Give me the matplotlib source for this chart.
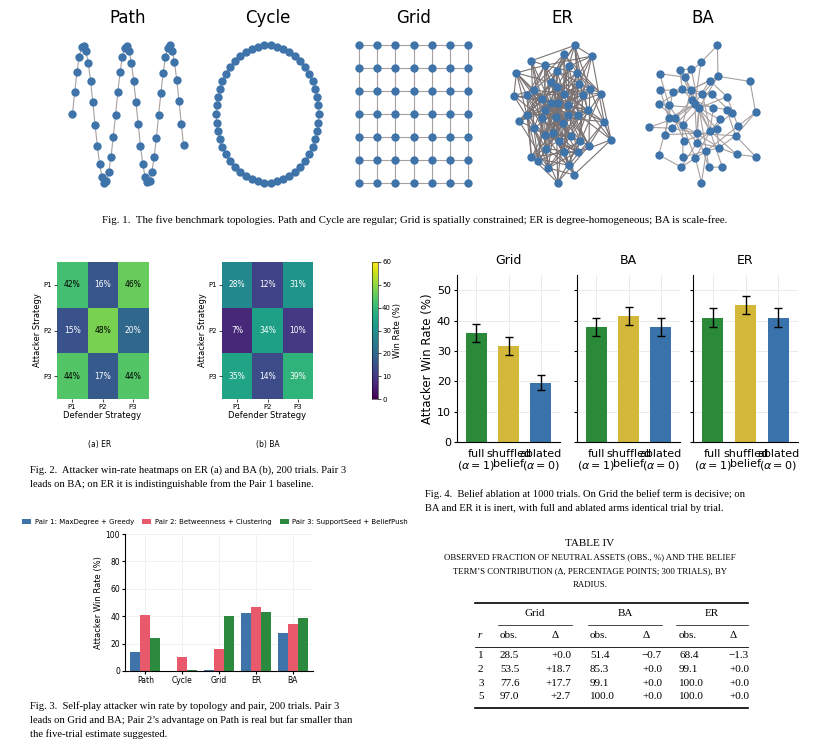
import numpy as np
import matplotlib
matplotlib.use("Agg")
import matplotlib.pyplot as plt

plt.rcParams.update({'font.family': 'DejaVu Sans'})
SERIF = 'Liberation Serif'

# ── Data ──────────────────────────────────────────────────────────────────────
topologies = ["Path", "Cycle", "Grid", "ER", "BA"]
n_nodes = 50
grid_side = 7

strategies = ["P1", "P2", "P3"]
heat_er = [[42, 16, 46], [15, 48, 20], [44, 17, 44]]
heat_ba = [[28, 12, 31], [7, 34, 10], [35, 14, 39]]

pair_labels = ["Pair 1: MaxDegree + Greedy", "Pair 2: Betweenness + Clustering",
               "Pair 3: SupportSeed + BeliefPush"]
pair1 = [14, 0, 0.5, 42, 28]
pair2 = [41, 10, 16, 47, 34]
pair3 = [24, 0.8, 40, 43, 39]

abl_panels = ["Grid", "BA", "ER"]
abl_arms = ["full\n($\\alpha=1$)", "shuffled\nbelief", "ablated\n($\\alpha=0$)"]
abl_vals = {"Grid": [36, 31.5, 19.5], "BA": [38, 41.5, 38], "ER": [41, 45, 41]}
abl_err = {"Grid": [3, 3, 2.5], "BA": [3, 3, 3], "ER": [3, 3, 3]}

radii = ["1", "2", "3", "5"]
grid_obs = ["28.5", "53.5", "77.6", "97.0"]
grid_d = ["+0.0", "+18.7", "+17.7", "+2.7"]
ba_obs = ["51.4", "85.3", "99.1", "100.0"]
ba_d = ["\u22120.7", "+0.0", "+0.0", "+0.0"]
er_obs = ["68.4", "99.1", "100.0", "100.0"]
er_d = ["\u22121.3", "+0.0", "+0.0", "+0.0"]

NODE = '#3f74aa'
EDGE = '#a8a0a0'

W, H = 830, 745
fig = plt.figure(figsize=(8.3, 7.45), dpi=100)


def ax_px(x0, y0, x1, y1):
    return fig.add_axes([x0 / W, 1 - y1 / H, (x1 - x0) / W, (y1 - y0) / H])


def ftext(x, y, s, **kw):
    fig.text(x / W, 1 - y / H, s, **kw)


# ── Graph layouts ─────────────────────────────────────────────────────────────
def spring(edges, n, seed, iters=200):
    rng = np.random.default_rng(seed)
    pos = rng.uniform(-1, 1, (n, 2))
    k = 1.0 / np.sqrt(n)
    t = 0.1
    for _ in range(iters):
        d = pos[:, None, :] - pos[None, :, :]
        dist = np.linalg.norm(d, axis=2) + 1e-6
        disp = (d / dist[..., None] * (k * k / dist)[..., None]).sum(axis=1)
        for i, j in edges:
            v = pos[i] - pos[j]
            l = np.linalg.norm(v) + 1e-6
            f = v / l * l * l / k
            disp[i] -= f
            disp[j] += f
        ln = np.linalg.norm(disp, axis=1) + 1e-6
        pos += disp / ln[:, None] * np.minimum(ln, t)[:, None]
        t *= 0.98
    return pos


def er_graph(n, p, seed):
    rng = np.random.default_rng(seed)
    return [(i, j) for i in range(n) for j in range(i + 1, n) if rng.random() < p]


def ba_graph(n, m, seed):
    rng = np.random.default_rng(seed)
    edges = [(0, 1), (1, 2), (0, 2)]
    deg = [2, 2, 2]
    for v in range(3, n):
        prob = np.array(deg) / sum(deg)
        targets = rng.choice(len(deg), size=m, replace=False, p=prob)
        deg.append(0)
        for t in targets:
            edges.append((int(t), v))
            deg[t] += 1
            deg[v] += 1
    return edges


def draw_graph(ax, pos, edges, ms=6, ecol=EDGE):
    for i, j in edges:
        ax.plot([pos[i, 0], pos[j, 0]], [pos[i, 1], pos[j, 1]], color=ecol, lw=0.8, zorder=1)
    ax.scatter(pos[:, 0], pos[:, 1], s=ms ** 2, color=NODE, zorder=2, linewidths=0)
    ax.axis('off')


boxes = [(68, 40, 188, 188), (212, 40, 323, 188), (355, 40, 472, 188),
         (510, 40, 615, 188), (645, 40, 760, 188)]
idx = np.arange(n_nodes)
layouts = {}
s = idx / (n_nodes - 1)
layouts["Path"] = (np.column_stack([s, np.sin(s * 5.15 * np.pi)]),
                   [(i, i + 1) for i in range(n_nodes - 1)])
ang = idx / n_nodes * 2 * np.pi
layouts["Cycle"] = (np.column_stack([0.75 * np.cos(ang), np.sin(ang)]),
                    [(i, (i + 1) % n_nodes) for i in range(n_nodes)])
gx, gy = np.meshgrid(np.arange(grid_side), np.arange(grid_side))
gpos = np.column_stack([gx.ravel(), gy.ravel()]).astype(float)
gedges = []
for r in range(grid_side):
    for c in range(grid_side):
        a = r * grid_side + c
        if c + 1 < grid_side:
            gedges.append((a, a + 1))
        if r + 1 < grid_side:
            gedges.append((a, a + grid_side))
layouts["Grid"] = (gpos, gedges)
ee = er_graph(n_nodes, 0.2, 3)
layouts["ER"] = (spring(ee, n_nodes, 1), ee)
be = ba_graph(n_nodes, 2, 5)
layouts["BA"] = (spring(be, n_nodes, 2), be)

for name, box in zip(topologies, boxes):
    ax = ax_px(*box)
    pos, edges = layouts[name]
    draw_graph(ax, pos, edges, ecol='#7a7272' if name == "ER" else EDGE)
    ax.margins(0.04)
    ftext((box[0] + box[2]) / 2, 18, name, ha='center', va='center', fontsize=12)

ftext(415, 220, "Fig. 1.  The five benchmark topologies. Path and Cycle are regular; Grid is spatially "
      "constrained; ER is degree-homogeneous; BA is scale-free.",
      ha='center', va='center', fontsize=7.8, family=SERIF)

# ── Fig. 2 heatmaps ───────────────────────────────────────────────────────────
for data, (x0, x1), lab, lx in [(heat_er, (57, 148), "(a) ER", 100),
                                 (heat_ba, (222, 313), "(b) BA", 268)]:
    ax = ax_px(x0, 262, x1, 399)
    arr = np.array(data)
    im = ax.imshow(arr, cmap='viridis', vmin=0, vmax=60, aspect='auto')
    for r in range(3):
        for c in range(3):
            v = arr[r, c]
            ax.text(c, r, f"{v}%", ha='center', va='center', fontsize=5.5,
                    color='black' if v >= 40 else 'white')
    ax.set_xticks(range(3))
    ax.set_xticklabels(strategies, fontsize=5)
    ax.set_yticks(range(3))
    ax.set_yticklabels(strategies, fontsize=5)
    ax.tick_params(length=2, width=0.5, pad=1.5)
    ax.set_xlabel("Defender Strategy", fontsize=6, labelpad=1)
    ax.set_ylabel("Attacker Strategy", fontsize=6, labelpad=1)
    for sp in ax.spines.values():
        sp.set_visible(False)
    ftext(lx, 445, lab, ha='center', va='center', fontsize=5.5)
cax = ax_px(372, 262, 378, 399)
cb = fig.colorbar(im, cax=cax)
cb.set_ticks([0, 10, 20, 30, 40, 50, 60])
cb.ax.tick_params(labelsize=5, length=2, width=0.5, pad=1)
cb.set_label("Win Rate (%)", fontsize=6, labelpad=1)
cb.outline.set_linewidth(0.4)

ftext(30, 470, "Fig. 2.  Attacker win-rate heatmaps on ER (a) and BA (b), 200 trials. Pair 3",
      va='center', fontsize=7.6, family=SERIF)
ftext(30, 484, "leads on BA; on ER it is indistinguishable from the Pair 1 baseline.",
      va='center', fontsize=7.6, family=SERIF)

# ── Fig. 4 ablation ───────────────────────────────────────────────────────────
abl_colors = ['#2a8a3a', '#d4b83a', '#3a73ab']
for k, (name, (x0, x1)) in enumerate(zip(abl_panels, [(457, 560), (577, 680), (693, 798)])):
    ax = ax_px(x0, 275, x1, 442)
    ax.bar(range(3), abl_vals[name], yerr=abl_err[name], color=abl_colors, width=0.65,
           capsize=3, error_kw=dict(lw=1, capthick=1))
    ax.set_ylim(0, 55)
    ax.set_xlim(-0.6, 2.6)
    ax.set_yticks([0, 10, 20, 30, 40, 50])
    ax.set_xticks(range(3))
    ax.set_xticklabels(abl_arms, fontsize=5.4, linespacing=1.0)
    ax.grid(True, color='#e8e8e8', lw=0.6)
    ax.set_axisbelow(True)
    ax.spines['top'].set_visible(False)
    ax.spines['right'].set_visible(False)
    ax.tick_params(labelsize=8, length=2.5, pad=2)
    ax.tick_params(axis='x', length=0, pad=5)
    ax.set_title(name, fontsize=9, pad=8)
    if k == 0:
        ax.set_ylabel("Attacker Win Rate (%)", fontsize=8.5, labelpad=2)
    else:
        ax.set_yticklabels([])

ftext(425, 494, "Fig. 4.  Belief ablation at 1000 trials. On Grid the belief term is decisive; on",
      va='center', fontsize=7.6, family=SERIF)
ftext(425, 508, "BA and ER it is inert, with full and ablated arms identical trial by trial.",
      va='center', fontsize=7.6, family=SERIF)

# ── Fig. 3 self-play ──────────────────────────────────────────────────────────
ax = ax_px(125, 534, 313, 671)
x = np.arange(len(topologies))
w = 0.27
pair_colors = ['#3f74aa', '#e8596b', '#2b8a3e']
for i, (vals, lab, col) in enumerate(zip([pair1, pair2, pair3], pair_labels, pair_colors)):
    ax.bar(x + (i - 1) * w, vals, width=w, color=col, label=lab)
ax.set_ylim(0, 100)
ax.set_xlim(-0.55, 4.55)
ax.set_xticks(x)
ax.set_xticklabels(topologies, fontsize=6)
ax.tick_params(labelsize=5.5, length=2, pad=1.5)
ax.set_ylabel("Attacker Win Rate (%)", fontsize=6, labelpad=2)
ax.grid(True, color='#ececec', lw=0.5)
ax.set_axisbelow(True)
ax.spines['top'].set_visible(False)
ax.spines['right'].set_visible(False)
ax.legend(loc='center', bbox_to_anchor=((215 - 125) / 188, (671 - 522) / 137), ncol=3,
          fontsize=5, frameon=False, handlelength=1.3, handleheight=0.6,
          columnspacing=1.2, handletextpad=0.5)

for i, line in enumerate(["Fig. 3.  Self-play attacker win rate by topology and pair, 200 trials. Pair 3",
                          "leads on Grid and BA; Pair 2\u2019s advantage on Path is real but far smaller than",
                          "the five-trial estimate suggested."]):
    ftext(30, 706 + i * 14, line, va='center', fontsize=7.6, family=SERIF)

# ── Table IV ──────────────────────────────────────────────────────────────────
ftext(590, 543, "TABLE IV", ha='center', va='center', fontsize=8, family=SERIF)
for i, line in enumerate(["OBSERVED FRACTION OF NEUTRAL ASSETS (OBS., %) AND THE BELIEF",
                          "TERM\u2019S CONTRIBUTION (\u0394, PERCENTAGE POINTS; 300 TRIALS), BY",
                          "RADIUS."]):
    ftext(590, 557 + i * 14, line, ha='center', va='center', fontsize=6.3, family=SERIF)

tab = ax_px(0, 0, W, H)
tab.set_xlim(0, W)
tab.set_ylim(H, 0)
tab.axis('off')
tab.plot([475, 748], [603, 603], color='black', lw=1.2)
tab.plot([475, 748], [708, 708], color='black', lw=1.2)
tab.plot([475, 748], [647, 647], color='black', lw=0.6)
for (a, b), name in zip([(498, 572), (588, 662), (676, 748)], ["Grid", "BA", "ER"]):
    tab.plot([a, b], [625, 625], color='black', lw=0.5)
    tab.text((a + b) / 2, 614, name, ha='center', va='center', fontsize=8, family=SERIF)
cols_x = [478, 500, 555, 590, 646, 679, 733]
tab.text(cols_x[0], 636, "r", ha='left', va='center', fontsize=8, family=SERIF, style='italic')
for cx, h in zip(cols_x[1:], ["obs.", "\u0394"] * 3):
    tab.text(cx, 636, h, ha='left' if h == "obs." else 'center', va='center', fontsize=8, family=SERIF)
for i, row in enumerate(zip(radii, grid_obs, grid_d, ba_obs, ba_d, er_obs, er_d)):
    yy = 656 + i * 13.5
    tab.text(cols_x[0], yy, row[0], ha='left', va='center', fontsize=8, family=SERIF)
    for j, val in enumerate(row[1:]):
        if j % 2 == 0:
            tab.text(cols_x[j + 1], yy, val, ha='left', va='center', fontsize=8, family=SERIF)
        else:
            tab.text(cols_x[j + 1] + 16, yy, val, ha='right', va='center', fontsize=8, family=SERIF)

fig.savefig("out.png", dpi=100)
